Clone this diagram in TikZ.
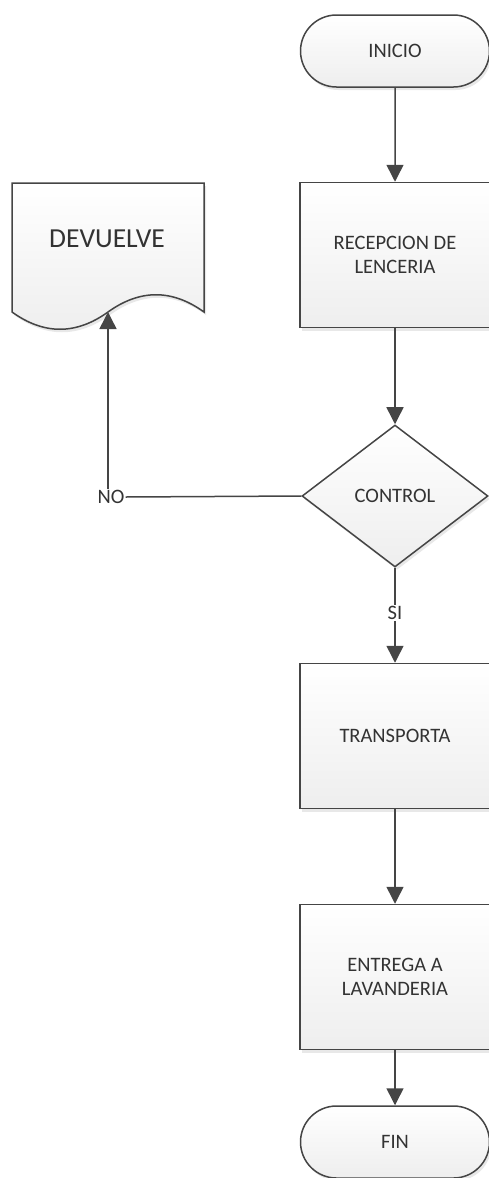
\documentclass[tikz,border=0pt]{standalone}
\usepackage{fontspec}
\setmainfont{Carlito}
\usetikzlibrary{shapes.misc,shapes.geometric,arrows.meta,shadows}
\definecolor{lin}{HTML}{454545}
\definecolor{txt}{HTML}{333333}
\definecolor{shd}{HTML}{EEEEEE}
\begin{document}
\begin{tikzpicture}[x=1pt,y=-1pt,
  base/.style={draw=lin,line width=1.5pt,top color=white,bottom color=shd,
    text=txt,font=\fontsize{20.5}{24}\selectfont,align=center,
    drop shadow={opacity=0.18,shadow xshift=2pt,shadow yshift=-3pt}},
  term/.style={base,rounded rectangle,minimum width=189pt,minimum height=72pt,inner sep=0pt},
  proc/.style={base,rectangle,minimum width=190pt,minimum height=145pt,inner sep=0pt},
  dec/.style={base,diamond,minimum width=186pt,minimum height=142pt,inner sep=0pt,aspect=1.3},
  lbl/.style={text=txt,font=\fontsize{20.5}{24}\selectfont,inner sep=1pt},
  conn/.style={draw=lin,line width=1.5pt},
  arr/.style={conn,-{Triangle[length=17pt,width=17pt]}}]
\useasboundingbox (0,0) rectangle (488,1178);
% document shape
\path[draw=lin,line width=1.5pt,top color=white,bottom color=shd,
  drop shadow={opacity=0.18,shadow xshift=2pt,shadow yshift=-3pt}]
  (12,183) -- (204,183) -- (204,312)
  .. controls (172,289) and (140,289) .. (108,312)
  .. controls (76,335) and (44,335) .. (12,312) -- cycle;
\coordinate (docbot) at (108,312);
\node[text=txt,font=\fontsize{27.5}{30}\selectfont] (dev) at (107,239) {DEVUELVE};
% main column
\node[term] (inicio) at (395,51) {INICIO};
\node[proc] (recep) at (395,255) {RECEPCION DE\\LENCERIA};
\node[dec] (ctrl) at (395,496) {CONTROL};
\node[proc] (transp) at (395,736) {TRANSPORTA};
\node[proc] (entrega) at (395,977) {ENTREGA A\\LAVANDERIA};
\node[term] (fin) at (395,1142) {FIN};
\node[lbl] (no) at (111,497) {NO};
\node[lbl] (si) at (395,613) {SI};
% connectors
\draw[arr] (inicio) -- (recep);
\draw[arr] (recep) -- (ctrl);
\draw[conn] (ctrl.south) -- (si.north);
\draw[arr] (si.south) -- (transp.north);
\draw[arr] (transp) -- (entrega);
\draw[arr] (entrega) -- (fin);
\draw[conn] (ctrl.west) -- (no.east);
\draw[arr] (no.north -| docbot) -- (docbot);
\end{tikzpicture}
\end{document}
